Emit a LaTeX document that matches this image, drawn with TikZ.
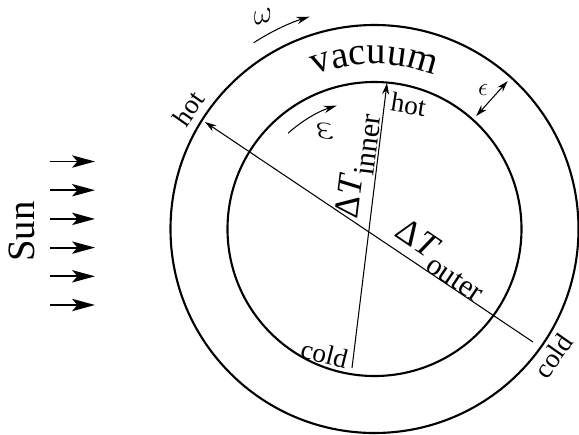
\documentclass[tikz,border=0pt]{standalone}
\usepackage{fontspec}
\setmainfont{Liberation Serif}
\usetikzlibrary{arrows.meta,decorations.text}

\tikzset{
    ring/.style={line width=1.2pt},
    diam/.style={line width=0.6pt, -{Stealth[length=6.5pt,width=4pt]}},
    spin/.style={line width=0.6pt, -{Stealth[length=7.5pt,width=4.2pt]}},
    sunray/.style={line width=1.1pt, -{Stealth[length=13pt,width=7pt,inset=3pt]}},
    lab/.style={font=\fontsize{15.5}{18}\selectfont, inner sep=0pt},
    dlab/.style={font=\fontsize{20}{23}\selectfont, inner sep=0pt},
}
\newcommand{\dT}[1]{Δ\textit{T}\raisebox{-6pt}{\fontsize{17}{17}\selectfont #1}}

\begin{document}
\begin{tikzpicture}
    \useasboundingbox (-7.49,-4.10) rectangle (4.09,4.58);
    % --- SHELLS ---
    \coordinate (c) at (0,0);
    \draw[ring] (c) circle (4.08);
    \draw[ring] (c) circle (2.94);
    \path[decorate, decoration={text along path, text align=center,
        text={|\fontsize{22}{26}\selectfont|vacuum}}] (130:3.3) arc (130:50:3.3);

    % --- TEMPERATURE DIAMETERS ---
    \coordinate (ihot) at (0.25,2.92);
    \coordinate (icold) at (-0.45,-2.78);
    \coordinate (ohot) at (-3.39,2.14);
    \coordinate (ocold) at (3.17,-2.26);
    \draw[diam] (icold) -- (ihot);
    \draw[diam] (ocold) -- (ohot);
    \node[lab, rotate=-9] (ihotl) at (0.68,2.49) {hot};
    \node[lab, rotate=-14] (icoldl) at (-1.0,-2.5) {cold};
    \node[lab, rotate=55] (ohotl) at (-3.72,2.41) {hot};
    \node[lab, rotate=55] (ocoldl) at (3.57,-2.54) {cold};
    \node[dlab, rotate=83] (dtin) at (-0.33,1.26) {\dT{inner}};
    \node[dlab, rotate=-34] (dtout) at (1.33,-0.62) {\dT{outer}};

    % --- ROTATION AND GAP ---
    \draw[spin] (123:4.44) arc (123:107:4.44);
    \draw[spin] (132:2.58) arc (132:107:2.58);
    \node[lab, font=\fontsize{17}{19}\selectfont, rotate=15] (wout) at (117.7:4.79) {$\omega$};
    \node[lab, font=\fontsize{17}{19}\selectfont, rotate=-80] (win) at (117:2.18) {$\omega$};
    \coordinate (ga) at (48:3.04);
    \coordinate (gb) at (48:3.98);
    \draw[diam, {Stealth[length=6.5pt,width=4pt]}-{Stealth[length=6.5pt,width=4pt]}] (ga) -- (gb);
    \node[lab] (eps) at (52:3.53) {$\epsilon$};

    % --- SUN ---
    \foreach \k in {0,...,5} {
        \coordinate (sa\k) at (-6.49,{1.35-0.574*\k});
        \coordinate (sb\k) at (-5.59,{1.35-0.574*\k});
        \draw[sunray] (sa\k) -- (sb\k);
    }
    \node[rotate=90, inner sep=0pt, font=\fontsize{22}{25}\selectfont] (sun) at (-7.06,-0.05) {Sun};
\end{tikzpicture}
\end{document}
